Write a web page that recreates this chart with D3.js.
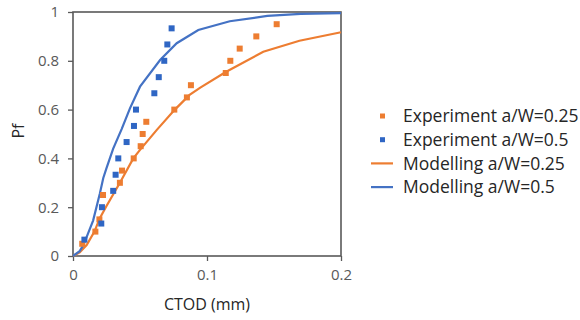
<!DOCTYPE html>
<html>
<head>
<meta charset="utf-8">
<script src="https://cdn.jsdelivr.net/npm/d3@7"></script>
<style>
  body { margin: 0; background: #fff; }
  text { font-family: "Open Sans", "Liberation Sans", sans-serif; }
</style>
</head>
<body>
<div id="chart"></div>
<script>
// Experiment points (CTOD mm, Pf)
var exp25_x = [0.0069, 0.0167, 0.0197, 0.0224, 0.035, 0.0366, 0.0453, 0.0505, 0.052, 0.0547, 0.0756, 0.085, 0.088, 0.114, 0.1174, 0.1244, 0.1368, 0.152];
var exp25_y = [0.05, 0.10, 0.15, 0.25, 0.30, 0.35, 0.40, 0.45, 0.50, 0.55, 0.60, 0.65, 0.70, 0.75, 0.80, 0.85, 0.90, 0.95];
var exp50_x = [0.0085, 0.0211, 0.0216, 0.030, 0.0318, 0.0338, 0.040, 0.0455, 0.047, 0.0607, 0.064, 0.0681, 0.0704, 0.0736];
var exp50_y = [0.067, 0.133, 0.20, 0.267, 0.333, 0.40, 0.467, 0.533, 0.60, 0.667, 0.733, 0.80, 0.867, 0.933];

// Modelling curves
var mod25_x = [0, 0.005, 0.0102, 0.016, 0.02, 0.025, 0.035, 0.045, 0.05, 0.0624, 0.076, 0.087, 0.095, 0.114, 0.142, 0.169, 0.2];
var mod25_y = [0, 0.015, 0.045, 0.10, 0.155, 0.205, 0.30, 0.40, 0.435, 0.516, 0.60, 0.66, 0.69, 0.754, 0.837, 0.882, 0.917];
var mod50_x = [0, 0.005, 0.0077, 0.01, 0.015, 0.02, 0.0226, 0.025, 0.03, 0.0363, 0.0425, 0.05, 0.065, 0.0774, 0.0935, 0.117, 0.145, 0.17, 0.2];
var mod50_y = [0, 0.02, 0.045, 0.075, 0.145, 0.255, 0.32, 0.36, 0.44, 0.52, 0.605, 0.694, 0.803, 0.872, 0.926, 0.962, 0.984, 0.992, 0.995];

var xTicks = [0, 0.1, 0.2];
var yTicks = [0, 0.2, 0.4, 0.6, 0.8, 1];

var legendNames = ["Experiment a/W=0.25", "Experiment a/W=0.5", "Modelling a/W=0.25", "Modelling a/W=0.5"];

var width = 580;
var height = 320;
var margin = ({ top: 12, right: 239, bottom: 64, left: 73 });

var orange = "#ed7d31";
var blue = "#4472c4";
var blueMark = "#2f66c4";
var axisColor = "#595959";

var svg = d3.select("#chart")
    .append("svg")
    .attr("width", width)
    .attr("height", height);

var x = d3.scaleLinear()
    .domain([0, 0.2])
    .range([margin.left, width - margin.right]);
var y = d3.scaleLinear()
    .domain([0, 1])
    .range([height - margin.bottom, margin.top]);

// axes
var xAxis = g => g
    .attr("transform", `translate(0,${height - margin.bottom})`)
    .call(d3.axisBottom(x).tickValues(xTicks).tickFormat(d3.format("~g")).tickSizeOuter(0).tickSize(5).tickPadding(8))
    .call(g => g.select(".domain").remove())
    .call(g => g.selectAll(".tick line").attr("stroke", axisColor).attr("stroke-width", 1.3))
    .call(g => g.selectAll(".tick text").attr("fill", "#595959").style("font-size", "15px"));
var yAxis = g => g
    .attr("transform", `translate(${margin.left},0)`)
    .call(d3.axisLeft(y).tickValues(yTicks).tickFormat(d3.format("~g")).tickSizeOuter(0).tickSize(5).tickPadding(9))
    .call(g => g.select(".domain").remove())
    .call(g => g.selectAll(".tick line").attr("stroke", axisColor).attr("stroke-width", 1.3))
    .call(g => g.selectAll(".tick text").attr("fill", "#595959").style("font-size", "15px"));

svg.append("g").call(xAxis);
svg.append("g").call(yAxis);

// frame round the plot
svg.append("rect")
    .attr("x", x(0))
    .attr("y", y(1))
    .attr("width", x(0.2) - x(0))
    .attr("height", y(0) - y(1))
    .attr("fill", "none")
    .attr("stroke", axisColor)
    .attr("stroke-width", 1.6);

// axis titles
svg.append("text")
    .attr("x", (x(0) + x(0.2)) / 2)
    .attr("y", 310)
    .attr("text-anchor", "middle")
    .style("font-size", "16px")
    .attr("fill", "#262626")
    .text("CTOD (mm)");
svg.append("text")
    .attr("transform", "translate(24,131) rotate(-90)")
    .attr("text-anchor", "middle")
    .style("font-size", "16px")
    .attr("fill", "#262626")
    .text("Pf");

// modelling lines
var line = d3.line()
    .x(d => x(d[0]))
    .y(d => y(d[1]));

svg.append("path")
    .datum(d3.zip(mod25_x, mod25_y))
    .attr("fill", "none")
    .attr("stroke", orange)
    .attr("stroke-width", 2.2)
    .attr("d", line);
svg.append("path")
    .datum(d3.zip(mod50_x, mod50_y))
    .attr("fill", "none")
    .attr("stroke", blue)
    .attr("stroke-width", 2.2)
    .attr("d", line);

// experiment squares
var s = 6;
svg.append("g")
    .selectAll("rect")
    .data(d3.zip(exp25_x, exp25_y))
    .join("rect")
      .attr("x", d => x(d[0]) - s / 2)
      .attr("y", d => y(d[1]) - s / 2)
      .attr("width", s)
      .attr("height", s)
      .attr("fill", orange);
svg.append("g")
    .selectAll("rect")
    .data(d3.zip(exp50_x, exp50_y))
    .join("rect")
      .attr("x", d => x(d[0]) - s / 2)
      .attr("y", d => y(d[1]) - s / 2)
      .attr("width", s)
      .attr("height", s)
      .attr("fill", blueMark);

// legend
var legend = svg.append("g");
var legendColors = [orange, blueMark, orange, blue];
legendNames.forEach(function (name, i) {
    var ly = 116 + i * 23.7;
    if (i < 2) {
        legend.append("rect")
            .attr("x", 380)
            .attr("y", ly - 2.5)
            .attr("width", 5)
            .attr("height", 5)
            .attr("fill", legendColors[i]);
    } else {
        legend.append("line")
            .attr("x1", 371)
            .attr("x2", 393)
            .attr("y1", ly)
            .attr("y2", ly)
            .attr("stroke", legendColors[i])
            .attr("stroke-width", 2.2);
    }
    legend.append("text")
        .attr("x", 403)
        .attr("y", ly)
        .attr("dy", "0.35em")
        .style("font-size", "17.5px")
        .attr("fill", "#262626")
        .text(name);
});
</script>
</body>
</html>
